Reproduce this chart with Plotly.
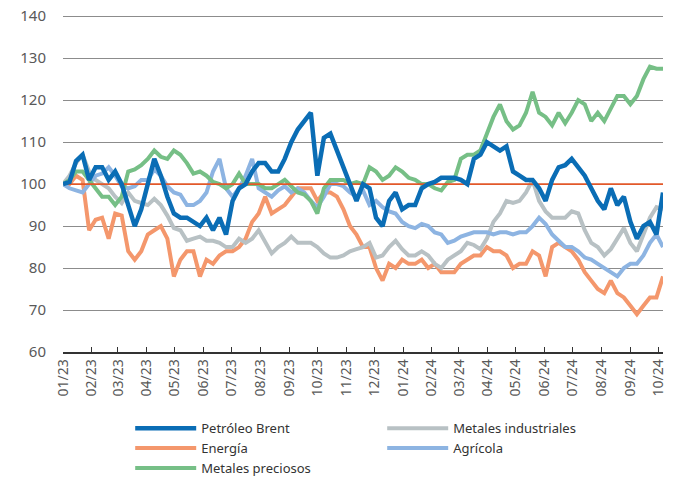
import pandas as pd
import plotly.graph_objects as go

# weekly observations, index base 100 (first week of January 2023)
start_date = "2023-01-01"
n_weeks = 93
base_level = 100

brent = [100, 100.5, 105.5, 107, 101, 104, 104, 101, 103, 100, 95, 90, 94, 100, 106, 102, 97, 93, 92, 92, 91, 90, 92, 89,
         92, 88, 96, 99, 100, 103, 105, 105, 103, 103, 106, 110, 113, 115, 117, 102, 111, 112, 108, 104, 100, 96, 100,
         99, 92, 90, 96, 98, 94, 95, 95, 99, 100, 100.5, 101.5, 101.5, 101.5, 101, 100, 106, 107, 110, 109, 108, 109, 103,
         102, 101, 101, 99, 96, 101, 104, 104.5, 106, 104, 102, 99, 96, 94, 99, 95, 97, 91, 87, 90, 91, 88, 98]

energia = [100, 100, 102, 101, 89, 91.5, 92, 87, 93, 92.5, 84, 82, 84, 88, 89, 90, 87, 78, 82, 84, 84, 78, 82, 81,
           83, 84, 84, 85, 87, 91, 93, 97, 93, 94, 95, 97, 99, 99, 99, 96, 98, 98, 97, 94, 90, 88, 85,
           85, 80, 77, 81, 80, 82, 81, 81, 82, 80, 81, 79, 79, 79, 81, 82, 83, 83, 85, 84, 84, 83, 80,
           81, 81, 84, 83, 78, 85, 86, 85, 84, 82, 79, 77, 75, 74, 77, 74, 73, 71, 69, 71, 73, 73, 78]

preciosos = [100, 101, 103, 103, 101, 99, 97, 97, 95, 97, 103, 103.5, 104.5, 106, 108, 106.5, 106, 108, 107, 105, 102.5, 103, 102, 100.5,
             100, 99, 100, 102.5, 100, 100, 100, 99, 99, 100, 101, 99.5, 98, 97.5, 96, 93, 99, 101, 101, 101, 100, 100.5, 100,
             104, 103, 101, 102, 104, 103, 101.5, 101, 100, 100, 99, 98.5, 100.5, 101, 106, 107, 107, 108, 112, 116, 119, 115, 113,
             114, 117, 122, 117, 116, 114, 117, 114.5, 117, 120, 119, 115, 117, 115, 118, 121, 121, 119, 121, 125, 128, 127.5, 127.5]

industriales = [100, 102, 105, 107, 103, 101, 100, 99, 97, 95.5, 98, 96, 95.5, 95, 96.5, 95, 92.5, 89.5, 89, 86.5, 87, 87.5, 86.5, 86.5,
                86, 85, 85, 87, 86, 87, 89, 86, 83.5, 85, 86, 87.5, 86, 86, 86, 85, 83.5, 82.5, 82.5, 83, 84, 84.5, 85,
                86, 82.5, 83, 85, 86.5, 84.5, 83, 83, 84, 83, 81, 80, 82, 83, 84, 86, 85.5, 84.5, 87, 91, 93, 96, 95.5,
                96, 98, 101, 96, 93.5, 92, 92, 92, 93.5, 93, 89, 86, 85, 83, 84.5, 87, 89.5, 86, 84, 88, 92, 94.5, 94]

agricola = [100, 99, 98.5, 98, 100, 102, 102.5, 104, 102, 99.5, 99, 99.5, 101, 101, 103.5, 102, 99.5, 98, 97.5, 95, 95, 96, 98, 103,
            106, 99, 97, 99, 102, 106, 99, 98, 97, 98.5, 99.5, 98, 99, 98, 96, 94.5, 97, 100, 100, 99.5, 98, 97, 98.5,
            95, 96, 94.5, 93.5, 93, 91, 90, 89.5, 90.5, 90, 88.5, 88, 86, 86.5, 87.5, 88, 88.5, 88.5, 88.5, 88, 88.5, 88.5, 88,
            88.5, 88.5, 90, 92, 90.5, 88, 86.5, 85, 85, 84, 82.5, 82, 81, 80, 79, 78, 80, 81, 81, 83, 86, 88, 85]

y_ticks = [60, 70, 80, 90, 100, 110, 120, 130, 140]
tick_dates = pd.date_range("2023-01-01", "2024-10-01", freq="MS")
tick_labels = [d.strftime("%m/%y") for d in tick_dates]

dates = pd.date_range(start_date, periods=n_weeks, freq="7D")

series = [
    # name, values, color, width, legend rank
    ("Energía", energia, "#F4976C", 4, 3),
    ("Metales industriales", industriales, "#B8C1C4", 4, 2),
    ("Agrícola", agricola, "#8DB4E2", 4, 4),
    ("Metales preciosos", preciosos, "#76BF86", 4, 5),
]

fig = go.Figure()
for name, vals, color, width, rank in series:
    fig.add_trace(go.Scatter(x=dates, y=vals, name=name, mode="lines",
                             line=dict(color=color, width=width), legendrank=rank))

fig.add_trace(go.Scatter(x=[dates[0], dates[-1]], y=[base_level, base_level], mode="lines",
                         line=dict(color="#E2582A", width=1.8), showlegend=False, hoverinfo="skip"))

fig.add_trace(go.Scatter(x=dates, y=brent, name="Petróleo Brent", mode="lines",
                         line=dict(color="#0A6DB5", width=4.5), legendrank=1))

fig.update_layout(
    width=680, height=477,
    margin=dict(l=63, r=17, t=12, b=125, autoexpand=False),
    paper_bgcolor="white", plot_bgcolor="white",
    font=dict(family="Noto Sans", size=14, color="#595959"),
    showlegend=True,
    legend=dict(orientation="h", x=0.112, xanchor="left", y=-0.18, yanchor="top",
                entrywidth=176, entrywidthmode="pixels", itemwidth=61,
                font=dict(size=13, color="#333333"), tracegroupgap=0,
                bgcolor="rgba(0,0,0,0)"),
)

fig.update_xaxes(
    type="date",
    range=[pd.Timestamp("2023-01-01"), pd.Timestamp("2024-10-06")],
    tickvals=tick_dates, ticktext=tick_labels, tickangle=-90,
    ticks="inside", ticklen=5, tickcolor="#333333", tickwidth=1.2,
    showline=True, linecolor="#333333", linewidth=1.5,
    showgrid=False, zeroline=False,
    tickfont=dict(size=14, color="#595959"),
)
fig.update_yaxes(
    range=[60, 141], tickvals=y_ticks,
    showgrid=True, gridcolor="#8C8C8C", gridwidth=1.3,
    zeroline=False, showline=False,
    tickfont=dict(size=15, color="#595959"),
    ticklabelstandoff=16,
)

# remove the browser's default 8 px page margin so the figure sits at the window's corner
fig.write_html("out.html", config={"displayModeBar": False},
               post_script="document.body.style.margin='0';")
